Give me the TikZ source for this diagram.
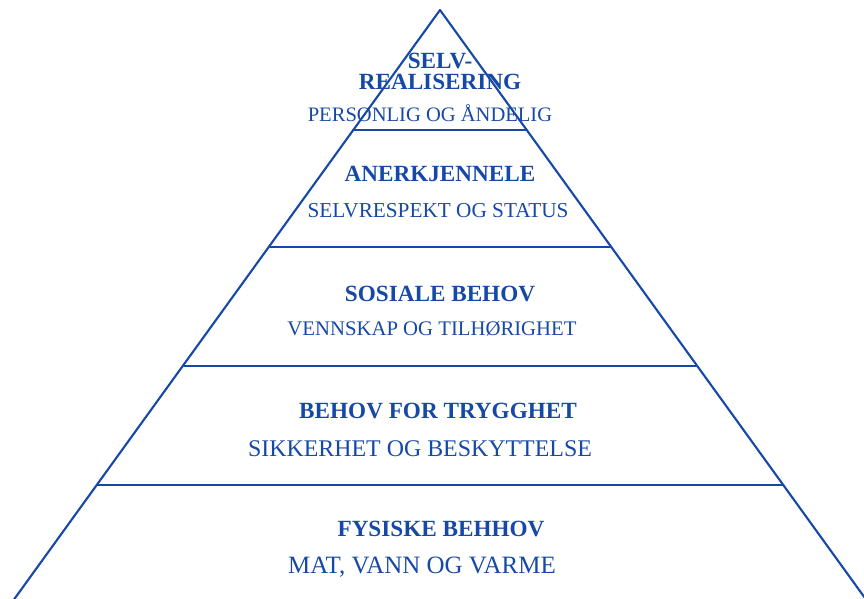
\documentclass[tikz,border=0pt]{standalone}
\usepackage{fontspec}
\setmainfont{Liberation Serif}
\definecolor{pyrblue}{RGB}{22,72,165}
\tikzset{
  title/.style={font=\bfseries\fontsize{13.2}{14}\selectfont,text=pyrblue,align=center,inner sep=0pt},
  sub/.style={font=\fontsize{#1}{14}\selectfont,text=pyrblue,inner sep=0pt},
  sub/.default=13.6,
}
\begin{document}
\begin{tikzpicture}[line cap=round,line join=round,x=0.02cm,y=-0.02cm]
\useasboundingbox (0,0) rectangle (864,598);
\clip (0,0) rectangle (864,598);
\coordinate (top) at (440,10);
\coordinate (bl) at (-3,623);
\coordinate (br) at (883,623);
\draw[pyrblue,line width=1.2pt] (bl) -- (top) -- (br);
\draw[pyrblue,line width=1.2pt] (353,130) -- (527,130);
\draw[pyrblue,line width=1.2pt] (270,247) -- (610,247);
\draw[pyrblue,line width=1.2pt] (184,366) -- (696,366);
\draw[pyrblue,line width=1.2pt] (97,485) -- (783,485);
% texts
\node[title] (selv) at (440,71) {SELV-\\[-2pt]REALISERING};
\node[sub=11.7] (selvsub) at (430,113) {PERSONLIG OG ÅNDELIG};
\node[title] (aner) at (440,174) {ANERKJENNELE};
\node[sub=12.1] (anersub) at (438,211) {SELVRESPEKT OG STATUS};
\node[title] (sos) at (440,294) {SOSIALE BEHOV};
\node[sub=11.8] (sossub) at (432,329) {VENNSKAP OG TILHØRIGHET};
\node[title] (tryg) at (438,411) {BEHOV FOR TRYGGHET};
\node[sub] (trygsub) at (420,449) {SIKKERHET OG BESKYTTELSE};
\node[title] (fys) at (441,529) {FYSISKE BEHHOV};
\node[sub=14.2] (fyssub) at (422,567) {MAT, VANN OG VARME};
\end{tikzpicture}
\end{document}
